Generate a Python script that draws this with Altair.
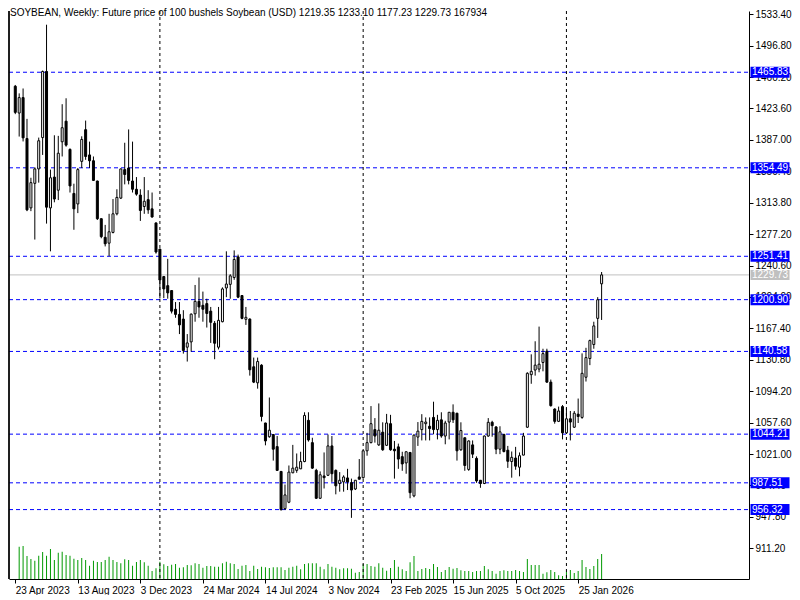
import altair as alt
import pandas as pd

# ---------------- data ----------------
opens = [1449.5, 1418.3, 1436.3, 1388.6, 1307.8, 1336.4, 1353.2, 1389.7, 1466.7, 1307.8,
         1343.7, 1328.4, 1384.8, 1408.8, 1376.0, 1324.6, 1312.4, 1362.0, 1398.9, 1369.5,
         1362.7, 1339.1, 1295.2, 1273.5, 1266.7, 1279.2, 1300.9, 1319.2, 1352.4, 1354.3,
         1339.1, 1329.5, 1322.7, 1309.4, 1317.4, 1306.7, 1290.3, 1259.8, 1227.8, 1217.2,
         1211.5, 1189.7, 1183.7, 1178.3, 1145.5, 1151.7, 1184.4, 1198.9, 1194.3, 1196.3,
         1187.5, 1173.4, 1145.5, 1175.2, 1214.5, 1218.7, 1226.7, 1250.7, 1205.7, 1178.0,
         1178.3, 1122.7, 1104.0, 1124.6, 1057.2, 1041.2, 1043.8, 1029.7, 1000.8, 957.4,
         964.9, 999.2, 1002.0, 1003.8, 1012.3, 1060.3, 1034.3, 1002.0, 969.5, 995.5,
         996.3, 1030.5, 1002.0, 986.7, 988.6, 993.2, 987.8, 980.3, 994.3, 993.5,
         1024.8, 1034.3, 1049.5, 1031.7, 1046.5, 1031.2, 1056.4, 1026.7, 1029.4, 1018.0,
         1010.7, 1022.9, 972.3, 1040.8, 1049.5, 1056.4, 1053.4, 1063.7, 1049.5, 1060.9,
         1042.0, 1058.3, 1069.7, 1068.6, 1026.0, 1040.0, 1003.1, 1031.7, 1016.0, 990.5,
         986.7, 1042.0, 1058.0, 1052.6, 1026.7, 1044.0, 1025.5, 1012.3, 1016.4, 1005.7,
         1019.8, 1052.3, 1113.5, 1118.9, 1120.0, 1127.7, 1140.9, 1104.8, 1073.5, 1059.1,
         1076.3, 1045.7, 1062.1, 1052.3, 1067.5, 1063.7, 1110.5, 1132.3, 1148.6, 1179.1,
         1219.35]
highs = [1451.0, 1441.2, 1446.9, 1411.5, 1342.9, 1355.1, 1389.7, 1467.8, 1521.2, 1352.4,
         1392.4, 1391.7, 1428.6, 1435.5, 1377.0, 1336.0, 1354.3, 1391.2, 1409.5, 1385.0,
         1367.7, 1339.5, 1295.5, 1288.0, 1300.9, 1318.1, 1329.5, 1353.5, 1383.7, 1399.2,
         1385.0, 1343.7, 1329.5, 1343.7, 1328.4, 1325.7, 1290.5, 1260.0, 1228.5, 1248.4,
         1212.0, 1198.1, 1198.1, 1188.6, 1160.8, 1184.8, 1218.0, 1226.7, 1210.3, 1202.0,
         1192.4, 1176.0, 1192.4, 1215.2, 1257.2, 1230.5, 1258.3, 1253.4, 1206.0, 1192.4,
         1179.1, 1133.4, 1133.4, 1125.7, 1057.5, 1086.9, 1044.0, 1042.0, 1001.0, 985.5,
         1007.7, 1031.7, 1021.7, 1023.7, 1069.7, 1069.7, 1040.0, 1003.8, 1000.8, 1022.9,
         1043.8, 1042.0, 1003.1, 1000.0, 996.3, 1003.8, 992.4, 990.7, 1015.2, 1025.0,
         1045.7, 1076.9, 1062.9, 1080.0, 1058.0, 1067.8, 1066.7, 1036.3, 1033.2, 1023.7,
         1024.0, 1023.0, 1043.8, 1058.3, 1067.5, 1063.7, 1063.7, 1082.0, 1066.7, 1069.7,
         1059.8, 1070.0, 1078.9, 1069.0, 1058.0, 1040.3, 1036.9, 1036.9, 1018.3, 990.7,
         1042.7, 1062.9, 1059.8, 1053.4, 1053.4, 1044.3, 1030.5, 1024.0, 1029.4, 1022.9,
         1045.7, 1116.3, 1137.2, 1152.4, 1169.5, 1143.7, 1143.7, 1107.8, 1074.3, 1076.3,
         1078.1, 1074.3, 1071.2, 1071.2, 1085.7, 1138.3, 1144.8, 1154.3, 1175.2, 1203.8,
         1233.10]
lows = [1417.0, 1390.9, 1385.2, 1304.0, 1304.0, 1270.9, 1337.2, 1369.5, 1289.5, 1257.2,
        1314.3, 1316.9, 1367.7, 1379.1, 1325.7, 1282.3, 1301.7, 1354.3, 1363.8, 1354.3,
        1339.1, 1293.7, 1272.4, 1262.9, 1251.5, 1278.1, 1299.1, 1318.1, 1335.2, 1335.2,
        1325.7, 1322.0, 1292.6, 1300.9, 1300.9, 1296.4, 1254.5, 1202.3, 1202.7, 1202.0,
        1184.8, 1179.8, 1160.8, 1138.0, 1128.8, 1140.3, 1175.2, 1179.8, 1175.2, 1168.4,
        1150.5, 1131.5, 1142.9, 1174.5, 1203.8, 1202.0, 1224.0, 1202.7, 1178.0, 1171.5,
        1112.4, 1103.7, 1097.2, 1059.1, 1031.2, 1040.0, 1013.4, 1001.5, 955.1, 956.0,
        963.8, 998.7, 999.2, 1003.5, 1011.5, 1035.5, 1003.8, 968.8, 968.8, 980.9,
        995.5, 988.6, 974.1, 977.2, 977.2, 979.1, 946.7, 979.1, 991.5, 992.4,
        1019.1, 1033.5, 1034.3, 1030.5, 1024.8, 1030.5, 1024.8, 992.4, 1003.8, 1001.5,
        998.1, 969.5, 970.7, 1030.5, 1036.9, 1036.9, 1036.9, 1044.0, 1038.1, 1040.0,
        1032.4, 1038.1, 1057.2, 1013.4, 1024.8, 1001.5, 1001.5, 1016.4, 987.5, 981.7,
        986.0, 1041.2, 1041.2, 1020.9, 1020.9, 1022.9, 1004.9, 993.5, 1002.7, 995.1,
        1019.5, 1051.5, 1102.9, 1112.4, 1116.3, 1117.4, 1104.0, 1076.3, 1056.4, 1058.3,
        1038.1, 1044.6, 1036.9, 1051.5, 1057.2, 1062.1, 1105.5, 1124.6, 1143.7, 1156.3,
        1177.23]
closes = [1419.1, 1436.3, 1389.4, 1305.5, 1337.2, 1353.2, 1386.0, 1466.7, 1308.6, 1342.9,
          1318.1, 1371.5, 1401.2, 1380.9, 1333.4, 1306.7, 1352.4, 1387.5, 1367.7, 1362.7,
          1339.8, 1295.2, 1274.3, 1266.0, 1280.0, 1300.9, 1320.0, 1353.2, 1346.7, 1339.8,
          1329.5, 1323.8, 1304.8, 1315.5, 1305.5, 1297.2, 1256.4, 1223.7, 1213.4, 1208.8,
          1187.5, 1183.7, 1171.5, 1141.7, 1150.5, 1184.0, 1198.9, 1192.4, 1189.7, 1184.8,
          1174.5, 1150.1, 1176.8, 1213.4, 1219.1, 1228.6, 1247.7, 1203.8, 1179.1, 1180.3,
          1119.2, 1104.8, 1128.8, 1064.8, 1036.3, 1048.8, 1026.7, 1002.0, 956.3, 973.4,
          1000.0, 1004.6, 1005.7, 1012.3, 1066.0, 1037.4, 1004.6, 969.5, 996.9, 993.5,
          1030.5, 998.1, 984.0, 990.5, 994.3, 988.6, 979.1, 990.5, 991.7, 1024.8,
          1034.3, 1056.4, 1042.0, 1048.8, 1026.0, 1057.2, 1026.0, 1024.8, 1015.2, 1009.5,
          1023.7, 976.0, 1043.1, 1047.7, 1059.1, 1058.3, 1050.7, 1049.5, 1060.3, 1042.0,
          1057.2, 1069.7, 1060.9, 1024.8, 1048.4, 1007.7, 1036.3, 1020.9, 989.7, 986.7,
          1042.0, 1058.0, 1054.1, 1026.7, 1046.9, 1024.0, 1012.6, 1017.2, 1006.9, 1019.1,
          1042.0, 1115.1, 1117.4, 1124.6, 1125.7, 1138.0, 1104.8, 1077.4, 1059.1, 1071.2,
          1045.7, 1062.1, 1058.3, 1068.6, 1064.8, 1115.1, 1133.4, 1153.2, 1170.3, 1200.8,
          1229.73]
volumes = [None, 217000, 221700, 154500, 134300, 122900, 156500, 181400, 156500, 201500,
           127600, 176700, 183400, 161200, 156500, 136400, 127600, 141100, 127600, 89300,
           122900, 114200, 114200, 127600, 149800, 127600, 114200, 105500, 132300, 127600,
           89300, 114200, 127600, 112200, 89300, 53700, 71900, 116200, 98700, 87300,
           96100, 100800, 75900, 78600, 94000, 92000, 105500, 100800, 75900, 87300,
           87300, 82600, 82600, 105500, 116200, 105500, 100800, 67200, 89300, 94000,
           53700, 89300, 67200, 82600, 78600, 73900, 78600, 78600, 78600, 60500,
           75900, 82600, 89300, 65200, 100800, 105500, 105500, 105500, 82600, 65200,
           100800, 82600, 75900, 65200, 71900, 71900, 69200, 42300, 47000, 100800,
           100800, 87300, 82600, 105500, 75900, 55800, 73900, 127600, 82600, 65200,
           53700, 112200, 154500, 53700, 67200, 73900, 67200, 100800, 80600, 47000,
           60500, 80600, 69200, 73900, 58400, 53700, 53700, 47000, 53700, 53700,
           87300, 65200, 53700, 35600, 53700, 58400, 53700, 53700, 60500, 53700,
           47000, 134300, 94000, 94000, 94000, 35600, 45000, 60500, 47000, 24900,
           20200, 47000, 60500, 40300, 53700, 127600, 80600, 67200, 87300, 134300,
           167934]

tick_idx = [0, 16, 32, 48, 64, 80, 96, 112, 128, 144]
tick_labels = ["23 Apr 2023", "13 Aug 2023", "3 Dec 2023", "24 Mar 2024", "14 Jul 2024",
               "3 Nov 2024", "23 Feb 2025", "15 Jun 2025", "5 Oct 2025", "25 Jan 2026"]
year_sep_idx = [37, 89, 141]
price_ticks = [911.20, 947.80, 984.40, 1021.00, 1057.60, 1094.20, 1130.80, 1167.40, 1204.00,
               1240.60, 1277.20, 1313.80, 1350.40, 1387.00, 1423.60, 1460.20, 1496.80, 1533.40]
levels = [1465.83, 1354.49, 1251.41, 1200.90, 1140.58, 1044.21, 987.51, 956.32]
last_price = [1229.73]
header = ["SOYBEAN, Weekly:  Future price of 100 bushels Soybean (USD)  "
          "1219.35 1233.10 1177.23 1229.73  167934"]

# ---------------- frames ----------------
bars = pd.DataFrame({"i": list(range(len(opens))), "o": opens, "h": highs,
                     "l": lows, "c": closes, "v": volumes})
lev_df = pd.DataFrame({"level": levels})
last_df = pd.DataFrame({"level": last_price})
sep_df = pd.DataFrame({"i": year_sep_idx})
head_df = pd.DataFrame({"t": header})

W, H = 740, 568
FONT = "Liberation Sans"
xs = alt.Scale(domain=[-0.325, 186.425], nice=False, zero=False)
ys = alt.Scale(domain=[875.46, 1537.17], nice=False, zero=False)

label_expr = ""
for k, lab in zip(tick_idx, tick_labels):
    label_expr += f"datum.value == {k} ? '{lab}' : "
label_expr += "''"

x_axis = alt.Axis(values=tick_idx, labelExpr=label_expr, labelAlign="left", labelFlush=False,
                  labelOverlap=False, tickSize=4, labelPadding=2, grid=False, title=None,
                  domainColor="black", tickColor="black", labelColor="black",
                  labelFont=FONT, labelFontSize=10)
y_axis = alt.Axis(orient="right", values=price_ticks, format=".2f", tickSize=4,
                  labelPadding=2, grid=False, title=None, domainColor="black",
                  tickColor="black", labelColor="black", labelFont=FONT,
                  labelFontSize=10, labelOverlap=False)

X = alt.X("i:Q", scale=xs, axis=x_axis)


def Y(field):
    return alt.Y(field, scale=ys, axis=y_axis)


level_lines = alt.Chart(lev_df).mark_rule(color="#0000FF", strokeDash=[4, 3], strokeWidth=1).encode(
    y=Y("level:Q"), x=alt.value(0), x2=alt.value(W))
last_line = alt.Chart(last_df).mark_rule(color="#C0C0C0", strokeWidth=1).encode(
    y=Y("level:Q"), x=alt.value(0), x2=alt.value(W))
seps = alt.Chart(sep_df).mark_rule(color="black", strokeDash=[3, 3], strokeWidth=1).encode(
    x=X, y=alt.value(0), y2=alt.value(H))

wicks = alt.Chart(bars).mark_rule(color="black", strokeWidth=1).encode(
    x=X, y=Y("l:Q"), y2="h:Q")
bodies = alt.Chart(bars).mark_bar(size=2, stroke="black", strokeWidth=1).encode(
    x=X, y=Y("o:Q"), y2="c:Q",
    fill=alt.condition("datum.c >= datum.o", alt.value("white"), alt.value("black")))

frame = alt.Chart(sep_df).mark_rule(color="black", strokeWidth=1).encode(
    x=alt.value(0), y=alt.value(0), y2=alt.value(H))

boxes = alt.Chart(lev_df).mark_tick(color="#0000FF", size=39, thickness=11, opacity=1).encode(
    y=Y("level:Q"), x=alt.value(W + 21))
box_text = alt.Chart(lev_df).mark_text(color="white", align="left", baseline="middle",
                                       font=FONT, fontSize=10).encode(
    y=Y("level:Q"), x=alt.value(W + 3),
    text=alt.Text("level:Q", format=".2f"))
last_box = alt.Chart(last_df).mark_tick(color="#C0C0C0", size=39, thickness=10, opacity=1).encode(
    y=Y("level:Q"), x=alt.value(W + 21))
last_text = alt.Chart(last_df).mark_text(color="white", align="left", baseline="middle",
                                         font=FONT, fontSize=10).encode(
    y=Y("level:Q"), x=alt.value(W + 3),
    text=alt.Text("level:Q", format=".2f"))

head = alt.Chart(head_df).mark_text(align="left", baseline="alphabetic", font=FONT,
                                    fontSize=10, color="black").encode(
    x=alt.value(1), y=alt.value(5), text="t:N")

price_layer = alt.layer(level_lines, last_line, seps, wicks, bodies, frame,
                        last_box, last_text, boxes, box_text, head)

vol_layer = alt.Chart(bars).mark_bar(size=1, color="#009900").encode(
    x=X,
    y=alt.Y("v:Q", scale=alt.Scale(domain=[0, 3815256], nice=False), axis=None))

chart = alt.layer(vol_layer, price_layer).resolve_scale(y="independent").properties(
    width=W, height=H, background="white", padding=0
).configure_view(stroke=None)

chart.save("out.html", embed_options={"renderer": "svg", "actions": False})
